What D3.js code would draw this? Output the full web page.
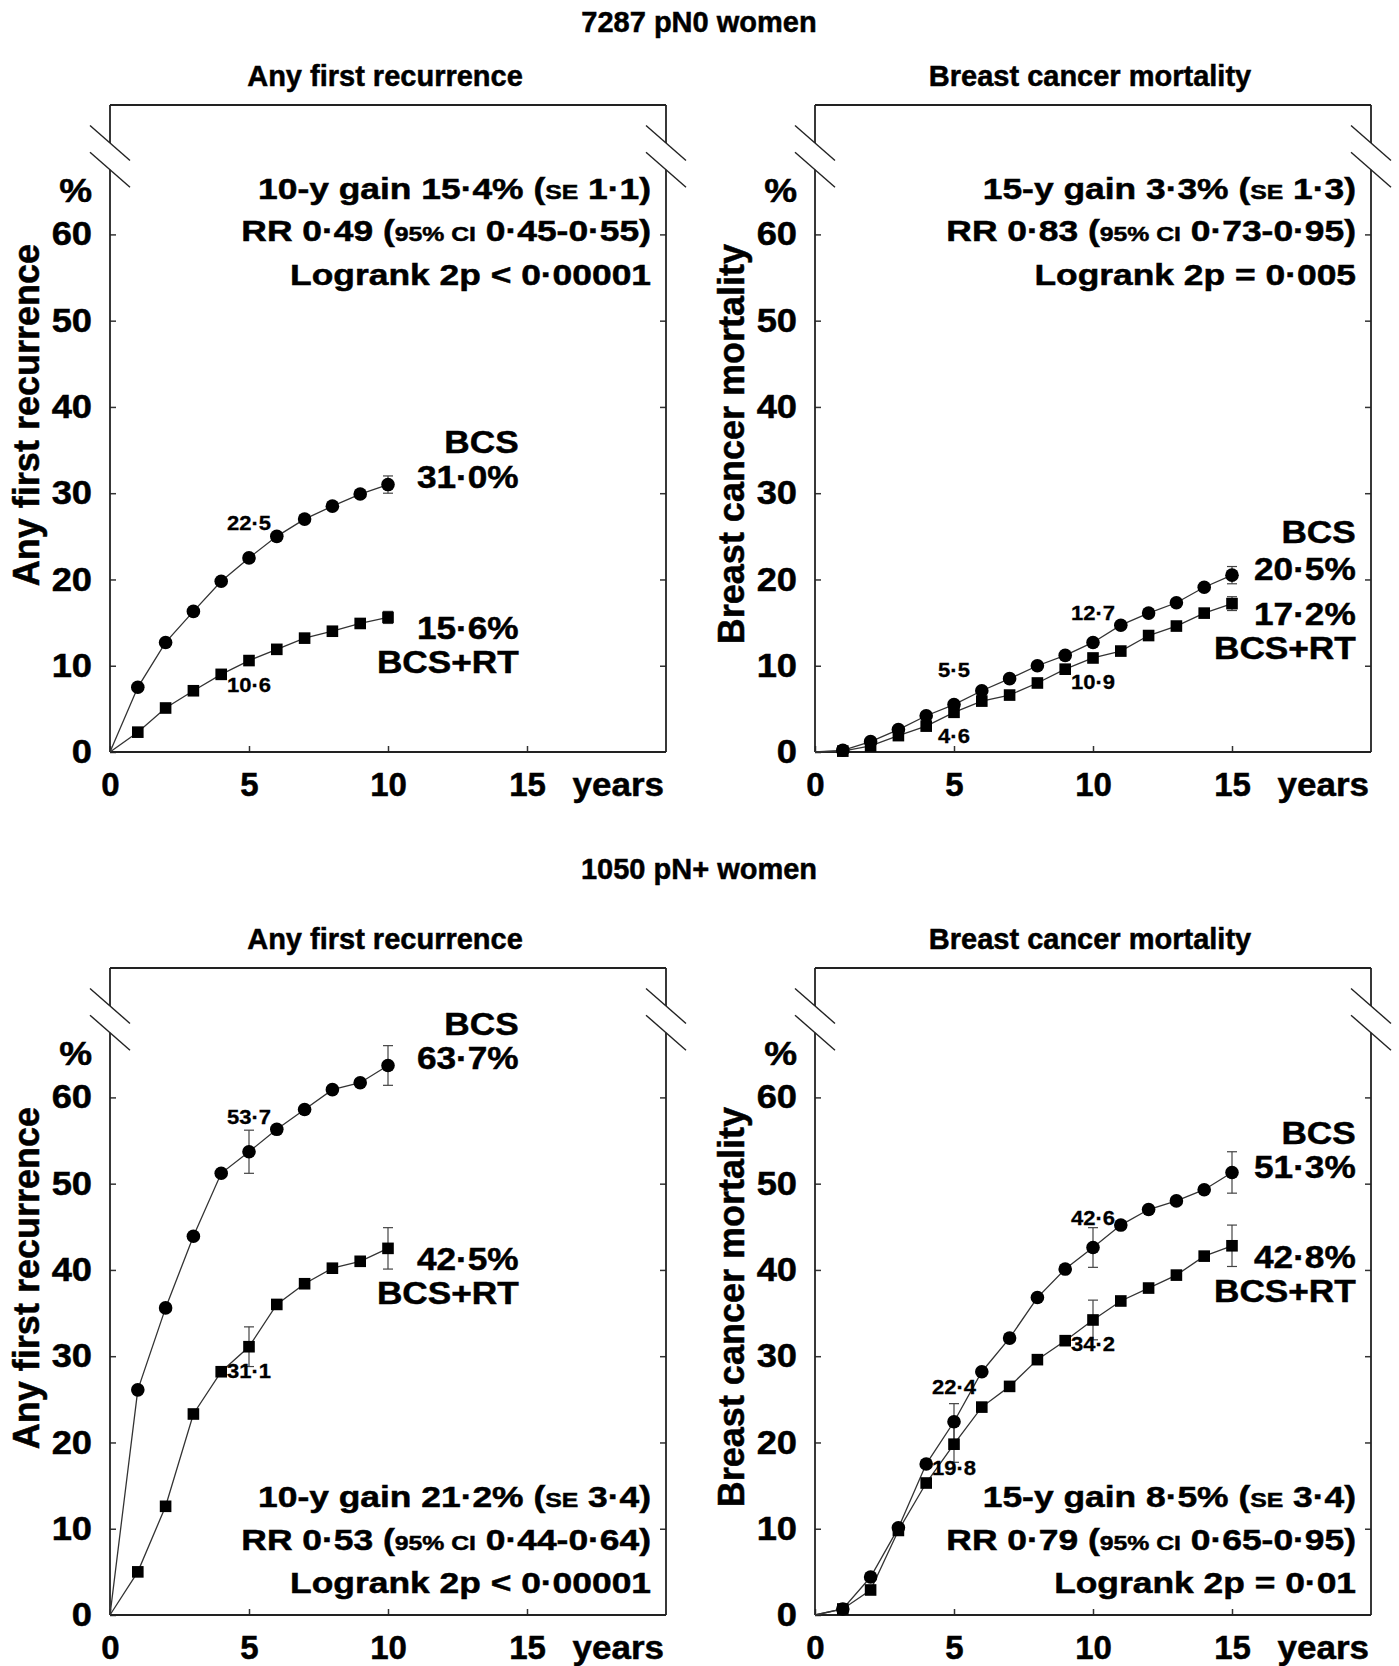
<!DOCTYPE html>
<meta charset="utf-8" />
<style>
  body {
    margin: 0;
    background: #fff;
  }
  svg text {
    font-family: "Liberation Sans", Arial, Helvetica, sans-serif;
    font-weight: bold;
    fill: #000;
    stroke: #000;
    stroke-width: 0.5px;
  }
  .axis .domain {
    display: none;
  }
  .axis line {
    stroke: #333;
    stroke-width: 1.5;
  }
</style>
<body>
  <div class="container"></div>

  <script src="https://d3js.org/d3.v7.min.js"></script>
  <script>
    // years of follow-up
    const years10 = [1, 2, 3, 4, 5, 6, 7, 8, 9, 10];
    const years15 = [1, 2, 3, 4, 5, 6, 7, 8, 9, 10, 11, 12, 13, 14, 15];

    // pN0: any first recurrence (%)
    const n0RecurBCS = [7.5, 12.7, 16.3, 19.8, 22.5, 25.0, 27.0, 28.5, 29.9, 31.0];
    const n0RecurRT = [2.3, 5.1, 7.1, 9.0, 10.6, 11.9, 13.2, 14.0, 14.9, 15.6];
    // pN0: breast cancer mortality (%)
    const n0MortBCS = [0.2, 1.2, 2.6, 4.2, 5.5, 7.1, 8.5, 10.0, 11.2, 12.7, 14.7, 16.1, 17.3, 19.1, 20.5];
    const n0MortRT = [0.1, 0.7, 1.9, 3.0, 4.6, 5.9, 6.6, 8.0, 9.6, 10.9, 11.7, 13.5, 14.6, 16.1, 17.2];
    // pN+: any first recurrence (%)
    const npRecurBCS = [26.1, 35.6, 43.9, 51.2, 53.7, 56.3, 58.6, 60.9, 61.7, 63.7];
    const npRecurRT = [5.0, 12.6, 23.3, 28.2, 31.1, 36.0, 38.4, 40.2, 41.0, 42.5];
    // pN+: breast cancer mortality (%)
    const npMortBCS = [0.7, 4.4, 10.1, 17.5, 22.4, 28.2, 32.1, 36.8, 40.1, 42.6, 45.2, 47.0, 48.0, 49.3, 51.3];
    const npMortRT = [0.7, 2.9, 9.8, 15.3, 19.8, 24.1, 26.5, 29.6, 31.8, 34.2, 36.4, 37.9, 39.4, 41.6, 42.8];

    // error bars: [year, half width in %]
    const n0RecurErrBCS = [[10, 1.0]];
    const n0RecurErrRT = [[10, 0.7]];
    const n0MortErrBCS = [[15, 1.0]];
    const n0MortErrRT = [[15, 0.8]];
    const npRecurErrBCS = [[5, 2.5], [10, 2.3]];
    const npRecurErrRT = [[5, 2.3], [10, 2.4]];
    const npMortErrBCS = [[5, 2.1], [10, 2.3], [15, 2.4]];
    const npMortErrRT = [[5, 2.1], [10, 2.3], [15, 2.4]];

    // labelled points: [series, year, text]
    const n0RecurMarks = [["bcs", 5, "22·5"], ["rt", 5, "10·6"]];
    const n0MortMarks = [["bcs", 5, "5·5"], ["rt", 5, "4·6"], ["bcs", 10, "12·7"], ["rt", 10, "10·9"]];
    const npRecurMarks = [["bcs", 5, "53·7"], ["rt", 5, "31·1"]];
    const npMortMarks = [["bcs", 5, "22·4"], ["rt", 5, "19·8"], ["bcs", 10, "42·6"], ["rt", 10, "34·2"]];

    // end labels: BCS name, BCS value, RT value, RT name
    const n0RecurEnd = ["BCS", "31·0%", "15·6%", "BCS+RT"];
    const n0MortEnd = ["BCS", "20·5%", "17·2%", "BCS+RT"];
    const npRecurEnd = ["BCS", "63·7%", "42·5%", "BCS+RT"];
    const npMortEnd = ["BCS", "51·3%", "42·8%", "BCS+RT"];

    // statistics text, {..} = small caps
    const n0RecurStats = ["10-y gain 15·4% ({SE} 1·1)", "RR 0·49 ({95% CI} 0·45-0·55)", "Logrank 2p < 0·00001"];
    const n0MortStats = ["15-y gain 3·3% ({SE} 1·3)", "RR 0·83 ({95% CI} 0·73-0·95)", "Logrank 2p = 0·005"];
    const npRecurStats = ["10-y gain 21·2% ({SE} 3·4)", "RR 0·53 ({95% CI} 0·44-0·64)", "Logrank 2p < 0·00001"];
    const npMortStats = ["15-y gain 8·5% ({SE} 3·4)", "RR 0·79 ({95% CI} 0·65-0·95)", "Logrank 2p = 0·01"];

    const yTicks = [0, 10, 20, 30, 40, 50, 60];
    const xTicks = [0, 5, 10, 15];

    const titles = ["7287 pN0 women", "1050 pN+ women"];

    // layout
    const W = 1399, H = 1666;
    const pw = 556, ph = 647;
    // small vertical nudges for a few point labels (px)
    const labelNudge = { "12·7": 6, "42·6": 5 };

    const panels = [
      { ox: 110, oy: 105, title: "Any first recurrence", ylab: "Any first recurrence",
        years: years10, bcs: n0RecurBCS, rt: n0RecurRT, errB: n0RecurErrBCS, errR: n0RecurErrRT,
        marks: n0RecurMarks, end: n0RecurEnd, endX: 14.7, endY: [34.66, 30.66, 13.1, 9.19],
        stats: n0RecurStats, statY: [64.1, 59.2, 54.1] },
      { ox: 815, oy: 105, title: "Breast cancer mortality", ylab: "Breast cancer mortality",
        years: years15, bcs: n0MortBCS, rt: n0MortRT, errB: n0MortErrBCS, errR: n0MortErrRT,
        marks: n0MortMarks, end: n0MortEnd, endX: 19.45, endY: [24.17, 19.94, 14.77, 10.83],
        stats: n0MortStats, statY: [64.1, 59.2, 54.1] },
      { ox: 110, oy: 968, title: "Any first recurrence", ylab: "Any first recurrence",
        years: years10, bcs: npRecurBCS, rt: npRecurRT, errB: npRecurErrBCS, errR: npRecurErrRT,
        marks: npRecurMarks, end: npRecurEnd, endX: 14.7, endY: [67.23, 63.29, 39.99, 36.05],
        stats: npRecurStats, statY: [12.5, 7.5, 2.55] },
      { ox: 815, oy: 968, title: "Breast cancer mortality", ylab: "Breast cancer mortality",
        years: years15, bcs: npMortBCS, rt: npMortRT, errB: npMortErrBCS, errR: npMortErrRT,
        marks: npMortMarks, end: npMortEnd, endX: 19.45, endY: [54.6, 50.66, 40.22, 36.28],
        stats: npMortStats, statY: [12.5, 7.5, 2.55] },
    ];

    const x = d3.scaleLinear().domain([0, 20]).range([0, pw]);
    const y = d3.scaleLinear().domain([0, 75]).range([ph, 0]);
    const breakLo = 67.5, breakHi = 70.6;

    const svg = d3
      .select(".container")
      .append("svg")
      .attr("width", W)
      .attr("height", H);

    svg.append("rect").attr("width", W).attr("height", H).attr("fill", "#fff");

    // text that is a little wider than the font, as in the original print
    function wideText(sel, tx, ty, sx, anchor, size) {
      return sel.append("text")
        .attr("transform", "translate(" + tx + "," + ty + ") scale(" + sx + ",1)")
        .attr("text-anchor", anchor)
        .style("font-size", size + "px");
    }

    // figure titles
    svg.append("text").attr("x", 699).attr("y", 32).attr("text-anchor", "middle")
      .style("font-size", "29px").text(titles[0]);
    svg.append("text").attr("x", 699).attr("y", 879).attr("text-anchor", "middle")
      .style("font-size", "29px").text(titles[1]);

    const line = d3.line().x((d) => x(d[0])).y((d) => y(d[1]));

    panels.forEach(function (p) {
      const g = svg.append("g").attr("transform", "translate(" + p.ox + "," + p.oy + ")");

      // subtitle
      g.append("text").attr("x", pw / 2 - 3).attr("y", -19).attr("text-anchor", "middle")
        .style("font-size", "29px").text(p.title);

      // axes with inward ticks
      const left = g.append("g").attr("class", "axis")
        .call(d3.axisLeft(y).tickValues(yTicks).tickSizeInner(-6).tickSizeOuter(0).tickPadding(18));
      left.selectAll("text").style("font-size", "33px")
        .attr("transform", "scale(1.1,1)").attr("x", -18 / 1.1);

      g.append("g").attr("class", "axis").attr("transform", "translate(" + pw + ",0)")
        .call(d3.axisRight(y).tickValues(yTicks.slice(1)).tickSizeInner(-6).tickSizeOuter(0).tickFormat(""));

      const bottom = g.append("g").attr("class", "axis").attr("transform", "translate(0," + ph + ")")
        .call(d3.axisBottom(x).tickValues(xTicks).tickSizeInner(-6).tickSizeOuter(0));
      bottom.selectAll("text").style("font-size", "33px").attr("y", 44).attr("dy", null);

      wideText(g, pw - 2, ph + 44, 1.06, "end", 33).text("years");
      wideText(g, -18, y(63.7), 1.12, "end", 33).text("%");

      // frame with broken verticals
      const frame = [
        [[0, 75], [20, 75]],
        [[0, 0], [20, 0]],
        [[0, 0], [0, breakLo]],
        [[0, breakHi], [0, 75]],
        [[20, 0], [20, breakLo]],
        [[20, breakHi], [20, 75]],
      ];
      g.selectAll(".frame").data(frame).enter().append("path")
        .attr("d", line).attr("fill", "none").attr("stroke", "#222").attr("stroke-width", 1.8);

      // break marks
      [0, 20].forEach(function (xv) {
        [breakLo, breakHi].forEach(function (yv) {
          const cx = x(xv), cy = y(yv);
          g.append("line").attr("x1", cx - 20).attr("y1", cy - 17.5).attr("x2", cx + 20).attr("y2", cy + 17.5)
            .attr("stroke", "#222").attr("stroke-width", 1.4);
        });
      });

      // y title
      g.append("text")
        .attr("transform", "translate(-71,139) rotate(-90)")
        .attr("text-anchor", "end")
        .style("font-size", "36px")
        .text(p.ylab);

      const bcsPts = [[0, 0]].concat(p.years.map((yr, i) => [yr, p.bcs[i]]));
      const rtPts = [[0, 0]].concat(p.years.map((yr, i) => [yr, p.rt[i]]));

      [bcsPts, rtPts].forEach(function (pts) {
        g.append("path").datum(pts).attr("d", line)
          .attr("fill", "none").attr("stroke", "#333").attr("stroke-width", 1.3);
      });

      // error bars
      function errBars(err, series) {
        err.forEach(function (e) {
          const v = series[p.years.indexOf(e[0])];
          const ex = x(e[0]);
          const y1 = y(v - e[1]), y2 = y(v + e[1]);
          g.append("line").attr("x1", ex).attr("x2", ex).attr("y1", y1).attr("y2", y2)
            .attr("stroke", "#444").attr("stroke-width", 1.2);
          [y1, y2].forEach(function (yy) {
            g.append("line").attr("x1", ex - 5).attr("x2", ex + 5).attr("y1", yy).attr("y2", yy)
              .attr("stroke", "#444").attr("stroke-width", 1.2);
          });
        });
      }
      errBars(p.errB, p.bcs);
      errBars(p.errR, p.rt);

      // markers
      g.selectAll(".dot").data(bcsPts.slice(1)).enter().append("circle")
        .attr("cx", (d) => x(d[0])).attr("cy", (d) => y(d[1])).attr("r", 6.8).attr("fill", "#000");
      g.selectAll(".sq").data(rtPts.slice(1)).enter().append("rect")
        .attr("x", (d) => x(d[0]) - 5.8).attr("y", (d) => y(d[1]) - 5.8)
        .attr("width", 11.6).attr("height", 11.6).attr("fill", "#000");

      // point labels
      p.marks.forEach(function (m) {
        const series = m[0] === "bcs" ? p.bcs : p.rt;
        const v = series[p.years.indexOf(m[1])];
        const dy = (m[0] === "bcs" ? -28 : 31) + (labelNudge[m[2]] || 0);
        wideText(g, x(m[1]), y(v) + dy, 1.1, "middle", 20).style("stroke-width", "0.3px").text(m[2]);
      });

      // end labels
      p.end.forEach(function (t, i) {
        wideText(g, x(p.endX), y(p.endY[i]), 1.1, "end", 32).text(t);
      });

      // statistics
      p.stats.forEach(function (s, i) {
        const t = wideText(g, pw - 15, y(p.statY[i]), 1.18, "end", 30);
        s.split(/\{(.*?)\}/).forEach(function (part, j) {
          if (!part) return;
          t.append("tspan").style("font-size", j % 2 ? "21px" : "30px").text(part);
        });
      });
    });
  </script>
</body>
